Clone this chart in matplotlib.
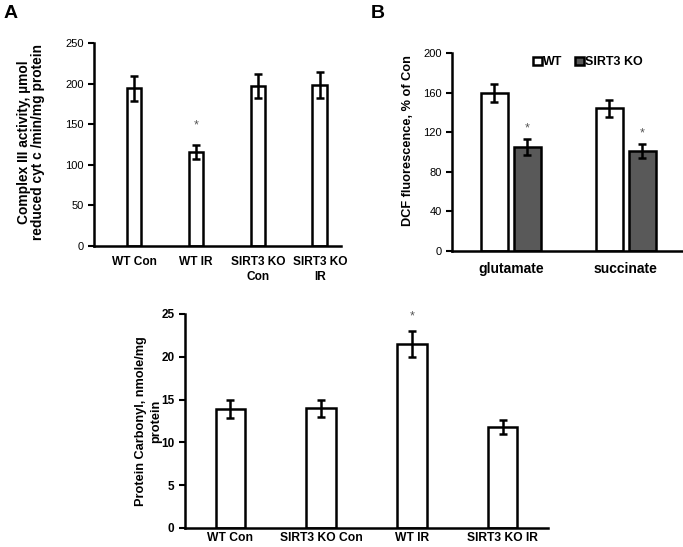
import numpy as np
import matplotlib; matplotlib.use("Agg")
import matplotlib.pyplot as plt

plt.rcParams["font.family"] = ["Liberation Sans", "DejaVu Sans"]

# ---- panel A: complex III activity
a_cats = ["WT Con", "WT IR", "SIRT3 KO\nCon", "SIRT3 KO\nIR"]
a_vals = [194, 116, 197, 198]
a_err  = [15, 9, 15, 16]

# ---- panel B: DCF fluorescence
b_cats   = ["glutamate", "succinate"]
b_wt     = [160, 144]
b_wt_err = [9, 9]
b_ko     = [105, 101]
b_ko_err = [8, 7]

# ---- panel C: protein carbonyl
c_cats = ["WT Con", "SIRT3 KO Con", "WT IR", "SIRT3 KO IR"]
c_vals = [13.9, 14.0, 21.5, 11.8]
c_err  = [1.0, 1.0, 1.5, 0.8]

EK = dict(ecolor="black", elinewidth=1.8, capsize=3, capthick=1.8)

def style(ax, ysize=8, yweight="normal", xsize=8.6, xpad=7):
    for s in ["top", "right"]: ax.spines[s].set_visible(False)
    for s in ["left", "bottom"]: ax.spines[s].set_linewidth(1.8)
    ax.tick_params(axis="y", direction="out", width=1.5, length=4, labelsize=ysize)
    ax.tick_params(axis="x", length=0, labelsize=xsize, pad=xpad)
    for t in ax.get_xticklabels():
        t.set_fontweight("bold"); t.set_linespacing(1.35)
    for t in ax.get_yticklabels(): t.set_fontweight(yweight)

fig = plt.figure(figsize=(6.83, 5.47), dpi=100)

# A
ax = fig.add_axes([94/683, 1 - 246/547, 247/683, 203/547])
x = np.arange(len(a_cats))
ax.bar(x, a_vals, width=0.24, color="white", edgecolor="black", linewidth=1.8,
       yerr=a_err, error_kw=EK)
ax.set_xlim(-0.645, 3.34); ax.set_ylim(0, 250)
ax.set_yticks(range(0, 251, 50)); ax.set_xticks(x, a_cats)
ax.set_ylabel("Complex III activity, µmol\nreduced cyt c /min/mg protein",
              fontsize=9.9, fontweight="bold", linespacing=1.0)
ax.yaxis.set_label_coords(-0.198, 0.51)
ax.text(1, 148, "*", ha="center", va="center", fontsize=9, color="#555555")
style(ax)

# B
ax = fig.add_axes([452/683, 1 - 251/547, 231/683, 198/547])
x = np.arange(len(b_cats))
w = 0.235
ax.bar(x - 0.143, b_wt, width=w, color="white", edgecolor="black", linewidth=1.8,
       yerr=b_wt_err, error_kw=EK, label="WT")
ax.bar(x + 0.143, b_ko, width=w, color="#595959", edgecolor="black", linewidth=1.8,
       yerr=b_ko_err, error_kw=EK, label="SIRT3 KO")
for i in range(len(b_cats)):
    ax.text(x[i] + 0.143, b_ko[i] + b_ko_err[i] + 11, "*", ha="center", va="center",
            fontsize=9, color="#555555")
ax.set_xlim(-0.513, 1.5); ax.set_ylim(0, 200)
ax.set_yticks(range(0, 201, 40)); ax.set_xticks(x, b_cats)
ax.set_ylabel("DCF fluorescence, % of Con", fontsize=9.2, fontweight="bold")
ax.yaxis.set_label_coords(-0.164, 0.556)
style(ax, xsize=10, xpad=8)
ax.legend(loc="upper center", bbox_to_anchor=(0.59, 1.04), ncol=2, frameon=False,
          handlelength=0.7, handleheight=0.7, handletextpad=0.1,
          columnspacing=1.0, prop={"weight": "bold", "size": 9})

# C
ax = fig.add_axes([185/683, 1 - 528/547, 363/683, 214/547])
x = np.arange(len(c_cats))
ax.bar(x, c_vals, width=0.325, color="white", edgecolor="black", linewidth=1.8,
       yerr=c_err, error_kw=EK)
ax.set_xlim(-0.5, 3.5); ax.set_ylim(0, 25)
ax.set_yticks(range(0, 26, 5)); ax.set_xticks(x, c_cats)
ax.set_ylabel("Protein Carbonyl, nmole/mg\nprotein", fontsize=9.2, fontweight="bold",
              linespacing=1.3)
ax.yaxis.set_label_coords(-0.063, 0.5)
ax.text(2, 24.7, "*", ha="center", va="center", fontsize=9, color="#555555")
style(ax, ysize=8.5, yweight="bold", xsize=8.7, xpad=3)

fig.text(0.005, 0.99, "A", fontsize=14, fontweight="bold", va="top")
fig.text(0.543, 0.99, "B", fontsize=14, fontweight="bold", va="top")

fig.savefig("out.png", dpi=100)
